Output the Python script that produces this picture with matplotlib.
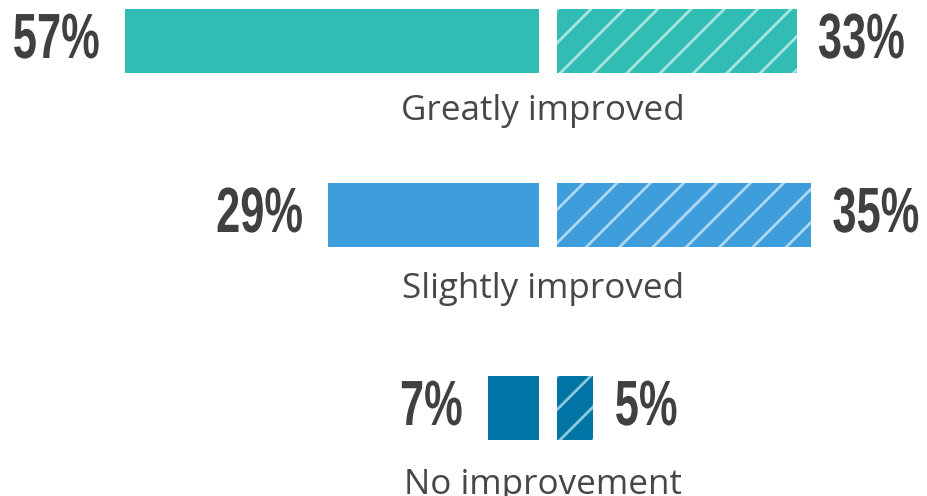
import matplotlib
matplotlib.use("Agg")
import matplotlib.pyplot as plt
from matplotlib.patheffects import AbstractPathEffect
from matplotlib.transforms import Affine2D

# Survey results: share of respondents per outcome, two groups
categories = ["Greatly improved", "Slightly improved", "No improvement"]
group_a = [57, 29, 7]   # solid bars, left side
group_b = [33, 35, 5]   # hatched bars, right side
colors = ["#32BDB4", "#3E9EDB", "#0074A5"]
hatch_colors = ["#A8E4DF", "#ADD7F2", "#8FC7DF"]


class Condense(AbstractPathEffect):
    """Narrow the glyphs horizontally, keeping one side of the text fixed."""

    def __init__(self, sx=0.7, anchor="left"):
        super().__init__()
        self.sx = sx
        self.anchor = anchor

    def draw_path(self, renderer, gc, tpath, affine, rgbFace=None):
        ext = tpath.get_extents()
        pivot = ext.x1 if self.anchor == "right" else ext.x0
        squeeze = (Affine2D().translate(-pivot, 0).scale(self.sx, 1)
                   .translate(pivot, 0))
        renderer.draw_path(gc, tpath, squeeze + affine, rgbFace)


DPI = 200
W, H = 928, 496
plt.rcParams["hatch.linewidth"] = 1.0

fig = plt.figure(figsize=(W / DPI, H / DPI), dpi=DPI)
ax = fig.add_axes([0, 0, 1, 1])
ax.set_axis_off()

px_per_unit = 7.26
center_px = 548
ax.set_xlim(-center_px / px_per_unit, (W - center_px) / px_per_unit)
ax.set_ylim(H, 0)

half_gap = 9 / px_per_unit
row_y = [41, 215, 408]
bar_h = 64
label_y = [120, 298, 494]

num_font = dict(family=["Liberation Sans", "DejaVu Sans"],
                fontweight="bold", fontsize=23, color="#404040")
cat_font = dict(family=["Open Sans", "DejaVu Sans"], fontsize=12.6,
                color="#474747")
SX = 0.68

for i, cat in enumerate(categories):
    y = row_y[i]
    ax.barh(y, -group_a[i], left=-half_gap, height=bar_h,
            color=colors[i], linewidth=0)
    ax.barh(y, group_b[i], left=half_gap, height=bar_h,
            facecolor=colors[i], edgecolor=hatch_colors[i],
            linewidth=0, hatch="//")
    ax.annotate(f"{group_a[i]}%", xy=(-half_gap - group_a[i], y),
                xytext=(-9, 0), textcoords="offset points",
                ha="right", va="center",
                path_effects=[Condense(SX, "right")], **num_font)
    ax.annotate(f"{group_b[i]}%", xy=(half_gap + group_b[i], y),
                xytext=(7.5, 0), textcoords="offset points",
                ha="left", va="center",
                path_effects=[Condense(SX, "left")], **num_font)
    ax.text(-0.7, label_y[i], cat, ha="center", va="baseline", **cat_font)

fig.savefig("out.png", dpi=DPI)
